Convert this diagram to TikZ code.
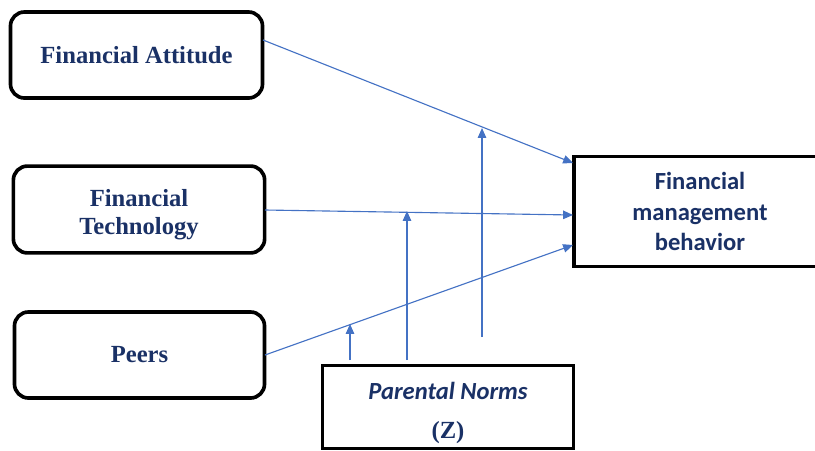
\documentclass[tikz,border=0pt]{standalone}
\usepackage{fontspec}
\setmainfont{Liberation Serif}
\newfontfamily\calfont{Carlito}
\usetikzlibrary{arrows.meta}
\definecolor{navy}{HTML}{1A3166}
\definecolor{lineblue}{HTML}{4472C4}
\tikzstyle{rbox}=[rectangle, rounded corners=0.35cm, draw=black, line width=2.6pt, fill=white, align=center, text=navy, font=\fontsize{17.5}{20.4}\selectfont\bfseries, anchor=center]
\tikzstyle{sbox}=[rectangle, draw=black, line width=2.6pt, fill=white, align=center, text=navy, anchor=center]
\tikzstyle{link}=[draw=lineblue, line width=0.8pt, -{Triangle[length=7pt,width=6pt]}]

\begin{document}
\begin{tikzpicture}[x=0.025cm, y=-0.025cm]
	\useasboundingbox (0,0) rectangle (815,450);
	\clip (0,0) rectangle (815,450);

	\node[rbox, minimum width=6.3cm, minimum height=2.15cm](fa) at (136.5,55){Financial Attitude};
	\node[rbox, minimum width=6.28cm, minimum height=2.17cm](ft) at (139,209.5){\rule{0pt}{19.5pt}Financial\\Technology};
	\node[rbox, minimum width=6.25cm, minimum height=2.15cm](peers) at (139.5,355){Peers};
	\node[sbox, minimum width=6.3cm, minimum height=2.75cm, font=\calfont\fontsize{17.5}{21.4}\selectfont\bfseries](fmb) at (700,211.5){Financial\\management\\behavior};
	\node[sbox, minimum width=6.28cm, minimum height=2.05cm, font=\fontsize{17.5}{21}\selectfont\bfseries](pn) at (448,407){\rule{0pt}{21pt}{\calfont\itshape Parental Norms}\\[6.5pt](Z)};

	% end points of the paths
	\coordinate (fa1) at (263,40);
	\coordinate (ft1) at (265,210);
	\coordinate (pe1) at (265,355);
	\coordinate (fmb1) at (573,163);
	\coordinate (fmb2) at (573,215);
	\coordinate (fmb3) at (573,245);

	\draw[link] (fa1) -- (fmb1);
	\draw[link] (ft1) -- (fmb2);
	\draw[link] (pe1) -- (fmb3);

	% moderation arrows from parental norms
	\coordinate (z1) at (350,360);
	\coordinate (z2) at (407,360);
	\coordinate (z3) at (482,337);
	\coordinate (t1) at (350,324);
	\coordinate (t2) at (407,211);
	\coordinate (t3) at (482,128);

	\draw[link] (z1) -- (t1);
	\draw[link] (z2) -- (t2);
	\draw[link] (z3) -- (t3);

\end{tikzpicture}
\end{document}
